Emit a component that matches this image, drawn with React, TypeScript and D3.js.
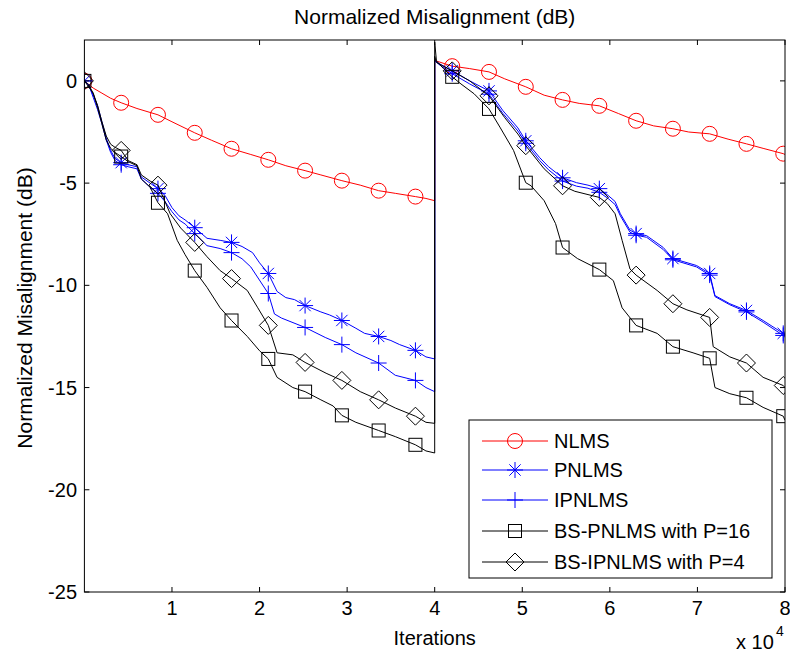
import React from "react";
import * as d3 from "d3";

const W = 790;
const H = 653;
const M = { left: 84.4, right: 785, top: 40, bottom: 592 };

const X_TICKS = [1, 2, 3, 4, 5, 6, 7, 8];
const Y_TICKS = [-25, -20, -15, -10, -5, 0];
const MARKER_T = [0, 0.42, 0.84, 1.26, 1.68, 2.1, 2.52, 2.94, 3.36, 3.78, 4.2, 4.62, 5.04, 5.46, 5.88, 6.3, 6.72, 7.14, 7.56, 7.98];

const nlms: [number, number][] = [
  [0, 0], [0.1, -0.35], [0.2, -0.6], [0.3, -0.85], [0.42, -1.07], [0.6, -1.35], [0.84, -1.66], [1.0, -2.0], [1.26, -2.54], [1.45, -2.9], [1.68, -3.32], [1.9, -3.6], [2.1, -3.86], [2.3, -4.15], [2.52, -4.39], [2.7, -4.6], [2.94, -4.88], [3.15, -5.1], [3.36, -5.37], [3.55, -5.5], [3.78, -5.66], [3.9, -5.75], [4.0, -5.86],
  [4.0, 1.0], [4.2, 0.72], [4.4, 0.6], [4.62, 0.44], [4.8, 0.1], [5.04, -0.29], [5.25, -0.7], [5.46, -0.93], [5.65, -1.1], [5.88, -1.22], [6.1, -1.6], [6.3, -1.95], [6.5, -2.2], [6.72, -2.34], [6.9, -2.5], [7.14, -2.59], [7.35, -2.85], [7.56, -3.08], [7.75, -3.3], [7.98, -3.56], [8.0, -3.6],
];

const pnlms: [number, number][] = [
  [0, 0], [0.05, -0.2], [0.1, -0.7], [0.15, -1.2], [0.2, -2.0], [0.25, -2.8], [0.3, -3.4], [0.35, -3.8], [0.42, -4.0], [0.5, -4.1], [0.6, -4.2], [0.65, -4.7], [0.75, -5.0], [0.84, -5.27], [0.92, -5.6], [1.0, -6.2], [1.08, -6.6], [1.15, -6.8], [1.26, -7.18], [1.4, -7.7], [1.55, -7.8], [1.68, -7.9], [1.8, -8.1], [1.92, -8.4], [2.0, -8.9], [2.1, -9.42], [2.2, -10.3], [2.3, -10.6], [2.4, -10.7], [2.52, -10.99], [2.7, -11.3], [2.8, -11.45], [2.94, -11.72], [3.1, -12.1], [3.2, -12.35], [3.36, -12.5], [3.5, -12.7], [3.6, -12.9], [3.78, -13.18], [3.9, -13.5], [4.0, -13.6],
  [4.0, 1.0], [4.05, 0.85], [4.2, 0.49], [4.4, 0.0], [4.62, -0.49], [4.78, -1.46], [4.95, -2.3], [5.04, -2.93], [5.2, -3.76], [5.3, -4.2], [5.46, -4.74], [5.62, -4.98], [5.75, -5.1], [5.88, -5.27], [5.98, -5.6], [6.06, -5.9], [6.12, -6.5], [6.23, -7.3], [6.3, -7.47], [6.42, -7.57], [6.61, -8.15], [6.72, -8.69], [6.99, -9.03], [7.14, -9.42], [7.2, -10.5], [7.37, -10.9], [7.56, -11.23], [7.75, -11.72], [7.98, -12.35], [8.0, -12.45],
];

const ipnlms: [number, number][] = [
  [0, 0], [0.05, -0.2], [0.1, -0.8], [0.15, -1.4], [0.2, -2.1], [0.25, -2.9], [0.3, -3.5], [0.35, -3.9], [0.42, -4.1], [0.5, -4.2], [0.6, -4.3], [0.65, -4.8], [0.75, -5.2], [0.84, -5.5], [0.92, -5.9], [1.0, -6.4], [1.08, -6.8], [1.15, -7.0], [1.26, -7.47], [1.4, -8.06], [1.55, -8.2], [1.68, -8.4], [1.8, -8.7], [1.9, -9.1], [2.1, -10.4], [2.17, -11.4], [2.25, -11.6], [2.52, -12.06], [2.75, -12.55], [2.94, -12.9], [3.1, -13.3], [3.36, -13.8], [3.55, -14.4], [3.78, -14.65], [3.9, -15.0], [4.0, -15.2],
  [4.0, 1.0], [4.05, 0.8], [4.2, 0.35], [4.4, -0.15], [4.62, -0.65], [4.78, -1.6], [4.95, -2.45], [5.04, -3.05], [5.2, -3.9], [5.3, -4.35], [5.46, -4.9], [5.62, -5.15], [5.75, -5.25], [5.88, -5.45], [5.98, -5.75], [6.06, -6.05], [6.12, -6.6], [6.23, -7.4], [6.3, -7.55], [6.42, -7.65], [6.61, -8.25], [6.72, -8.75], [6.99, -9.1], [7.14, -9.5], [7.2, -10.55], [7.37, -10.95], [7.56, -11.3], [7.75, -11.8], [7.98, -12.45], [8.0, -12.55],
];

const bsPnlms: [number, number][] = [
  [0, 0], [0.05, -0.3], [0.1, -0.6], [0.15, -1.3], [0.2, -2.1], [0.25, -2.9], [0.3, -3.3], [0.35, -3.5], [0.42, -3.7], [0.5, -3.95], [0.6, -4.15], [0.65, -4.8], [0.75, -5.2], [0.84, -5.96], [0.95, -6.5], [1.06, -7.8], [1.15, -8.5], [1.26, -9.28], [1.4, -10.1], [1.55, -11.1], [1.68, -11.72], [1.86, -12.5], [2.0, -13.2], [2.1, -13.6], [2.2, -14.5], [2.38, -15.0], [2.52, -15.2], [2.7, -15.6], [2.84, -15.9], [2.94, -16.36], [3.1, -16.7], [3.36, -17.1], [3.55, -17.4], [3.78, -17.8], [3.9, -18.1], [4.0, -18.2],
  [4.0, 1.9], [4.02, 0.98], [4.1, 0.6], [4.2, 0.2], [4.3, -0.15], [4.45, -0.63], [4.62, -1.37], [4.75, -2.3], [4.9, -3.4], [5.04, -4.98], [5.1, -5.13], [5.25, -5.86], [5.38, -6.98], [5.46, -8.15], [5.63, -8.69], [5.88, -9.23], [6.04, -9.77], [6.14, -11.1], [6.3, -11.96], [6.54, -12.35], [6.72, -13.0], [6.95, -13.3], [7.14, -13.57], [7.2, -15.0], [7.37, -15.3], [7.56, -15.5], [7.75, -15.97], [7.98, -16.4], [8.0, -16.6],
];

const bsIpnlms: [number, number][] = [
  [0, 0], [0.05, -0.2], [0.1, -0.6], [0.15, -1.2], [0.2, -2.0], [0.25, -2.7], [0.3, -3.1], [0.35, -3.25], [0.42, -3.4], [0.5, -3.9], [0.6, -4.1], [0.65, -4.6], [0.75, -4.9], [0.84, -5.1], [0.98, -6.5], [1.1, -7.2], [1.26, -7.9], [1.4, -8.6], [1.55, -9.28], [1.68, -9.67], [1.86, -10.25], [1.98, -11.1], [2.1, -11.96], [2.2, -13.3], [2.38, -13.4], [2.52, -13.77], [2.76, -14.3], [2.94, -14.65], [3.15, -15.2], [3.36, -15.6], [3.55, -16.0], [3.78, -16.4], [3.9, -16.7], [4.0, -16.75],
  [4.0, 1.2], [4.02, 0.9], [4.2, 0.49], [4.4, 0.0], [4.62, -0.73], [4.8, -1.8], [4.95, -2.6], [5.04, -3.17], [5.25, -4.3], [5.46, -5.13], [5.6, -5.4], [5.88, -5.7], [5.97, -6.0], [6.06, -6.5], [6.14, -7.8], [6.23, -9.2], [6.3, -9.5], [6.54, -10.25], [6.72, -10.9], [6.88, -11.2], [7.14, -11.57], [7.18, -13.0], [7.37, -13.5], [7.56, -13.8], [7.75, -14.5], [7.98, -14.9], [8.0, -15.0],
];

const SERIES_NAMES = ["NLMS", "PNLMS", "IPNLMS", "BS-PNLMS with P=16", "BS-IPNLMS with P=4"];
const SERIES_DATA = [nlms, pnlms, ipnlms, bsPnlms, bsIpnlms];
const SERIES_COLORS = ["#ff0000", "#0000ff", "#0000ff", "#000000", "#000000"];
const SERIES_MARKERS = ["circle", "star", "plus", "square", "diamond"];

const FONT = "'Liberation Sans', Arial, Helvetica, sans-serif";

function Marker({ type, x, y, color }: { type: string; x: number; y: number; color: string }) {
  const sw = 1;
  if (type === "circle") return <circle cx={x} cy={y} r={7.5} fill="none" stroke={color} strokeWidth={sw} />;
  if (type === "square") return <rect x={x - 6.5} y={y - 6.5} width={13} height={13} fill="none" stroke={color} strokeWidth={sw} />;
  if (type === "diamond")
    return <path d={`M${x},${y - 9}L${x + 9},${y}L${x},${y + 9}L${x - 9},${y}Z`} fill="none" stroke={color} strokeWidth={sw} />;
  if (type === "plus")
    return <path d={`M${x - 8},${y}H${x + 8}M${x},${y - 8}V${y + 8}`} fill="none" stroke={color} strokeWidth={sw} />;
  const r = 8;
  const d = r * 0.7071;
  return (
    <path
      d={`M${x - r},${y}H${x + r}M${x},${y - r}V${y + r}M${x - d},${y - d}L${x + d},${y + d}M${x - d},${y + d}L${x + d},${y - d}`}
      fill="none"
      stroke={color}
      strokeWidth={sw}
    />
  );
}

export default function App() {
  const x = d3.scaleLinear().domain([0, 8]).range([M.left, M.right]);
  const y = d3.scaleLinear().domain([-25, 2]).range([M.bottom, M.top]);
  const line = d3.line<[number, number]>().x((d) => x(d[0])).y((d) => y(d[1]));
  const tickLen = 5;

  const legX = 469, legY = 420, legW = 303, legH = 158;
  const legRows = [441, 470, 500, 531, 562];

  return (
    <svg width={W} height={H} style={{ position: "absolute", left: 0, top: 0, background: "#fff" }} fontFamily={FONT}>
      <rect x={0} y={0} width={W} height={H} fill="#fff" />
      <defs>
        <clipPath id="plotclip">
          <rect x={M.left} y={M.top} width={M.right - M.left} height={M.bottom - M.top} />
        </clipPath>
      </defs>
      <g clipPath="url(#plotclip)">
        {SERIES_DATA.map((data, i) => (
          <g key={SERIES_NAMES[i]}>
            <path d={line(data) || ""} fill="none" stroke={SERIES_COLORS[i]} strokeWidth={1} />
            {MARKER_T.map((t) => {
              const p = data.find((d) => d[0] === t);
              if (!p) return null;
              return <Marker key={t} type={SERIES_MARKERS[i]} x={x(p[0])} y={y(p[1])} color={SERIES_COLORS[i]} />;
            })}
          </g>
        ))}
      </g>
      {/* axes box */}
      <rect x={M.left} y={M.top} width={M.right - M.left} height={M.bottom - M.top} fill="none" stroke="#000" strokeWidth={1} />
      {X_TICKS.map((t) => (
        <g key={"x" + t}>
          <line x1={x(t)} x2={x(t)} y1={M.bottom} y2={M.bottom - tickLen} stroke="#000" />
          <line x1={x(t)} x2={x(t)} y1={M.top} y2={M.top + tickLen} stroke="#000" />
          <text x={x(t)} y={615} textAnchor="middle" fontSize={20} fill="#000">
            {t}
          </text>
        </g>
      ))}
      {Y_TICKS.map((t) => (
        <g key={"y" + t}>
          <line x1={M.left} x2={M.left + tickLen} y1={y(t)} y2={y(t)} stroke="#000" />
          <line x1={M.right} x2={M.right - tickLen} y1={y(t)} y2={y(t)} stroke="#000" />
          <text x={77} y={y(t) + 7} textAnchor="end" fontSize={20} fill="#000">
            {t}
          </text>
        </g>
      ))}
      {/* titles */}
      <text x={(M.left + M.right) / 2} y={24} textAnchor="middle" fontSize={21} fill="#000">
        Normalized Misalignment (dB)
      </text>
      <text x={(M.left + M.right) / 2} y={645} textAnchor="middle" fontSize={20} fill="#000">
        Iterations
      </text>
      <text transform={`translate(32,${(M.top + M.bottom) / 2 - 8}) rotate(-90)`} textAnchor="middle" fontSize={21} fill="#000">
        Normalized Misalignment (dB)
      </text>
      <text x={736} y={649} fontSize={20} fill="#000">
        x 10
      </text>
      <text x={776} y={636} fontSize={14} fill="#000">
        4
      </text>
      {/* legend */}
      <rect x={legX} y={legY} width={legW} height={legH} fill="#fff" stroke="#000" strokeWidth={1} />
      {SERIES_NAMES.map((name, i) => (
        <g key={"leg" + name}>
          <line x1={482} x2={548} y1={legRows[i]} y2={legRows[i]} stroke={SERIES_COLORS[i]} strokeWidth={1} />
          <Marker type={SERIES_MARKERS[i]} x={515} y={legRows[i]} color={SERIES_COLORS[i]} />
          <text x={554} y={legRows[i] + 7} fontSize={20} fill="#000">
            {name}
          </text>
        </g>
      ))}
    </svg>
  );
}
